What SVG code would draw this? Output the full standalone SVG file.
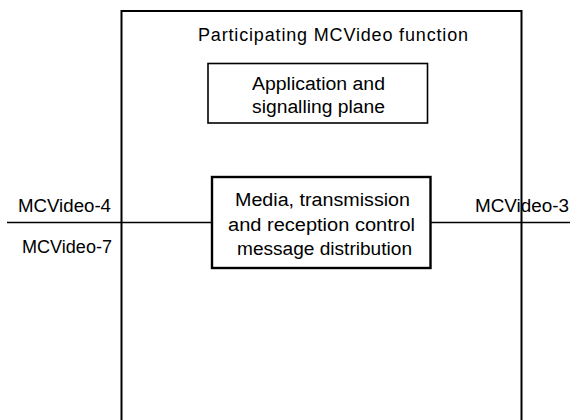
<svg xmlns="http://www.w3.org/2000/svg" width="570" height="420" viewBox="0 0 570 420">
<style>
text{font-family:"Liberation Sans",Arial,sans-serif;font-size:18px;fill:#000}
.box{fill:#fff;stroke:#000}
.conn{stroke:#000;stroke-width:1.6;fill:none}
</style>
<rect width="570" height="420" fill="#fff"/>
<g id="participating-function">
<path class="box" d="M121.5,430 V11 H521.5 V430" stroke-width="2"/>
<text x="198" y="41" textLength="270" lengthAdjust="spacing">Participating MCVideo function</text>
</g>
<g id="connectors">
<line class="conn" x1="7" y1="222.5" x2="212" y2="222.5"/>
<line class="conn" x1="430" y1="222.5" x2="570" y2="222.5"/>
</g>
<g id="app-plane">
<rect class="box" x="208" y="63.5" width="219.5" height="59.5" stroke-width="1.6"/>
<text x="252" y="90" textLength="133" lengthAdjust="spacingAndGlyphs">Application and</text>
<text x="252" y="113" textLength="133" lengthAdjust="spacingAndGlyphs">signalling plane</text>
</g>
<g id="media-distribution">
<rect class="box" x="212" y="177" width="218.5" height="91" stroke-width="2.4"/>
<text x="235" y="206" textLength="175" lengthAdjust="spacingAndGlyphs">Media, transmission</text>
<text x="228" y="231" textLength="187" lengthAdjust="spacingAndGlyphs">and reception control</text>
<text x="237" y="255" textLength="175" lengthAdjust="spacingAndGlyphs">message distribution</text>
</g>
<g id="labels">
<text x="18" y="212" textLength="93" lengthAdjust="spacingAndGlyphs">MCVideo-4</text>
<text x="22" y="253" textLength="90" lengthAdjust="spacingAndGlyphs">MCVideo-7</text>
<text x="475" y="212" textLength="94" lengthAdjust="spacingAndGlyphs">MCVideo-3</text>
</g>
</svg>
